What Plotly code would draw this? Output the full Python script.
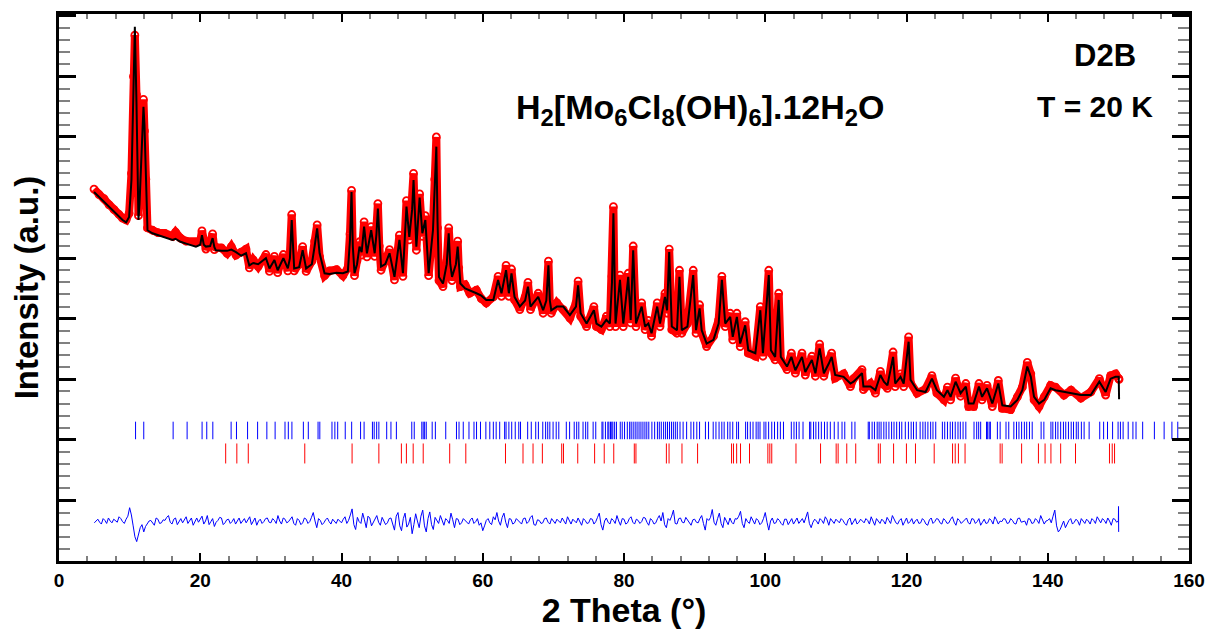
import plotly.graph_objects as go

# ---------------- data ----------------
# 2-theta positions (deg) of the profile points
two_theta = [4.96, 5.67, 6.4, 7.09, 7.8, 8.51, 9.0, 9.5, 9.93, 10.26,
             10.54, 10.74, 10.97, 11.1, 11.25, 11.4, 11.59, 11.8, 11.96, 12.1,
             12.3, 12.53, 13.24, 14.0, 15.0, 16.07, 16.5, 17.2, 18.0, 19.39,
             20.0, 20.24, 20.5, 20.8, 21.4, 21.75, 22.0, 22.2, 23.0, 23.8,
             24.4, 25.06, 25.8, 26.48, 26.95, 27.5, 28.2, 29.3, 29.8, 30.5,
             30.96, 31.77, 32.4, 32.7, 32.95, 33.15, 33.3, 34.0, 34.5, 34.99,
             35.8, 36.2, 36.55, 36.9, 37.6, 38.3, 39.3, 40.2, 40.9, 41.2,
             41.42, 41.6, 41.84, 42.2, 42.55, 42.85, 43.2, 43.6, 44.2, 44.7,
             44.95, 45.15, 45.35, 45.6, 46.2, 46.8, 47.5, 48.2, 48.7, 49.2,
             49.6, 50.0, 50.2, 50.4, 50.6, 51.06, 51.45, 51.87, 52.34, 52.95,
             53.2, 53.43, 53.6, 53.8, 54.37, 54.9, 55.18, 55.4, 55.65, 56.2,
             56.45, 56.6, 56.83, 57.5, 58.16, 59.1, 59.8, 60.5, 61.5, 62.17,
             62.65, 63.3, 63.7, 64.07, 64.5, 65.25, 66.0, 66.4, 66.76, 67.85,
             68.55, 69.0, 69.3, 69.5, 69.7, 70.5, 71.4, 72.34, 73.2, 73.5,
             73.86, 74.7, 75.74, 76.1, 76.8, 77.5, 78.0, 78.3, 78.5, 78.65,
             78.8, 79.43, 79.9, 80.6, 80.95, 81.3, 81.7, 82.5, 82.98, 83.45,
             83.9, 84.7, 85.1, 85.8, 86.1, 86.4, 86.77, 87.5, 87.85, 88.18,
             88.98, 89.8, 90.2, 90.7, 91.0, 91.7, 92.67, 93.4, 93.86, 94.33,
             95.04, 95.4, 95.98, 96.45, 97.16, 97.6, 98.6, 99.3, 99.67, 100.5,
             100.8, 101.4, 101.9, 102.2, 103.08, 103.7, 104.26, 105.2, 105.67, 106.6,
             107.1, 107.7, 108.3, 109.0, 109.4, 109.9, 111.1, 112.06, 112.5, 113.7,
             113.9, 114.9, 115.6, 116.3, 116.8, 117.3, 118.1, 118.4, 119.15, 119.6,
             120.3, 120.57, 121.5, 122.7, 123.6, 124.3, 125.3, 125.8, 126.24, 126.95,
             127.66, 128.4, 128.8, 129.5, 130.26, 130.7, 131.4, 132.15, 133.0, 133.57,
             134.75, 135.7, 136.4, 137.1, 137.6, 138.06, 138.77, 139.5, 140.4, 141.1,
             142.3, 143.3, 144.7, 146.1, 147.3, 148.2, 148.9, 149.6, 150.05, 150.1]

# calculated profile (black line), arbitrary units
y_calc = [6.09, 6.01, 5.92, 5.84, 5.76, 5.68, 5.63, 5.59, 5.68, 6.29,
          7.83, 8.82, 7.56, 6.5, 5.63, 5.9, 6.45, 7.1, 7.50, 7.2,
          6.45, 5.46, 5.41, 5.38, 5.34, 5.30, 5.32, 5.27, 5.24, 5.19,
          5.22, 5.38, 5.22, 5.19, 5.2, 5.33, 5.18, 5.13, 5.12, 5.12,
          5.14, 5.10, 5.04, 5.08, 4.88, 4.92, 4.9, 5.0, 4.83, 4.97,
          4.80, 5.0, 4.83, 5.0, 5.63, 5.1, 4.83, 4.85, 5.13, 4.83,
          4.9, 5.2, 5.49, 5.08, 4.75, 4.74, 4.76, 4.75, 4.78, 5.3,
          6.09, 5.2, 4.75, 4.9, 5.19, 5.1, 5.52, 5.08, 5.46, 5.08,
          5.4, 5.82, 5.3, 4.86, 4.9, 5.08, 4.69, 5.30, 4.75, 5.85,
          5.35, 5.8, 6.29, 5.7, 5.19, 6.0, 5.41, 5.63, 4.75, 5.46,
          6.2, 6.84, 5.6, 4.69, 4.58, 4.9, 5.41, 4.9, 4.69, 4.9,
          5.19, 4.9, 4.58, 4.5, 4.47, 4.42, 4.38, 4.31, 4.31, 4.64,
          4.42, 4.8, 4.42, 4.75, 4.36, 4.2, 4.3, 4.53, 4.20, 4.36,
          4.14, 4.3, 4.88, 4.3, 4.14, 4.2, 4.2, 4.06, 4.2, 4.55,
          4.09, 3.92, 4.14, 3.92, 3.87, 3.98, 3.92, 4.6, 5.74, 4.6,
          3.92, 4.64, 3.92, 4.69, 3.98, 5.13, 3.92, 4.2, 3.87, 3.92,
          3.76, 4.2, 3.92, 4.36, 4.14, 5.10, 3.87, 3.81, 4.69, 3.81,
          3.87, 4.72, 3.81, 4.17, 3.81, 3.59, 3.65, 3.92, 4.64, 3.92,
          4.03, 3.70, 4.03, 3.59, 3.89, 3.48, 3.43, 4.14, 3.43, 4.72,
          3.48, 3.37, 4.31, 3.37, 3.21, 3.37, 3.15, 3.37, 3.12, 3.32,
          3.10, 3.51, 3.10, 3.26, 3.37, 3.07, 3.04, 2.93, 2.96, 3.10,
          2.88, 2.88, 2.82, 3.07, 2.96, 2.90, 3.37, 2.93, 3.04, 2.93,
          3.62, 2.99, 2.82, 2.79, 3.01, 2.82, 2.71, 2.82, 2.71, 2.96,
          2.77, 2.88, 2.60, 2.60, 2.88, 2.71, 2.85, 2.60, 2.93, 2.57,
          2.55, 2.66, 2.82, 3.21, 3.04, 2.71, 2.60, 2.66, 2.85, 2.82,
          2.79, 2.77, 2.74, 2.74, 2.96, 2.79, 3.01, 3.04, 3.04, 2.67]

# observed intensities (red open circles)
y_obs = [6.14, 6.05, 5.98, 5.88, 5.80, 5.72, 5.66, 5.63, 5.74, 6.40,
         8.0, 8.68, 7.7, 6.6, 5.7, 6.0, 6.55, 7.2, 7.62, 7.1,
         6.3, 5.50, 5.46, 5.42, 5.41, 5.36, 5.43, 5.33, 5.28, 5.26,
         5.28, 5.45, 5.27, 5.15, 5.25, 5.40, 5.14, 5.18, 5.17, 5.08,
         5.19, 5.05, 5.10, 5.15, 4.84, 4.97, 4.86, 5.06, 4.78, 5.03,
         4.76, 5.06, 4.79, 5.08, 5.72, 5.0, 4.79, 4.90, 5.19, 4.78,
         4.95, 5.28, 5.55, 5.02, 4.71, 4.79, 4.81, 4.71, 4.84, 5.4,
         6.12, 5.1, 4.71, 4.96, 5.27, 5.05, 5.6, 5.02, 5.52, 5.03,
         5.5, 5.9, 5.2, 4.80, 4.96, 5.14, 4.64, 5.38, 4.70, 5.95,
         5.30, 5.9, 6.40, 5.6, 5.13, 6.06, 5.36, 5.7, 4.71, 5.52,
         6.3, 7.0, 5.5, 4.63, 4.53, 4.95, 5.50, 4.84, 4.63, 4.96,
         5.28, 4.84, 4.53, 4.56, 4.42, 4.47, 4.33, 4.26, 4.36, 4.70,
         4.37, 4.88, 4.37, 4.82, 4.31, 4.15, 4.36, 4.60, 4.15, 4.42,
         4.09, 4.36, 4.95, 4.24, 4.09, 4.26, 4.15, 4.01, 4.26, 4.62,
         4.04, 3.87, 4.20, 3.87, 3.82, 4.04, 3.87, 4.7, 5.85, 4.5,
         3.87, 4.72, 3.87, 4.75, 3.93, 5.2, 3.87, 4.26, 3.82, 3.97,
         3.71, 4.26, 3.87, 4.42, 4.09, 5.15, 3.82, 3.76, 4.80, 3.76,
         3.92, 4.80, 3.76, 4.23, 3.76, 3.54, 3.71, 3.98, 4.70, 3.87,
         4.09, 3.65, 4.09, 3.54, 3.95, 3.43, 3.38, 4.20, 3.38, 4.80,
         3.43, 3.32, 4.42, 3.32, 3.16, 3.43, 3.10, 3.43, 3.07, 3.38,
         3.05, 3.58, 3.05, 3.32, 3.43, 3.02, 3.09, 2.88, 3.01, 3.16,
         2.83, 2.93, 2.77, 3.13, 2.91, 2.85, 3.45, 2.88, 3.09, 2.88,
         3.70, 2.94, 2.77, 2.84, 3.06, 2.77, 2.66, 2.87, 2.66, 3.02,
         2.72, 2.93, 2.55, 2.55, 2.93, 2.66, 2.90, 2.55, 2.98, 2.52,
         2.50, 2.71, 2.87, 3.28, 3.09, 2.66, 2.55, 2.71, 2.90, 2.87,
         2.74, 2.82, 2.69, 2.79, 3.01, 2.74, 3.06, 3.09, 3.01, 3.0]

# difference curve (obs - calc, shifted): samples at whole/half degrees 5..150
diff_theta_a = [5.0 + 0.5 * i for i in range(291)]
y_diff_a = [0.63, 0.69, 0.61, 0.67, 0.71, 0.63, 0.67, 0.73, 0.65, 0.69,
            0.88, 0.58, 0.32, 0.55, 0.48, 0.61, 0.67, 0.59, 0.69, 0.63,
            0.67, 0.75, 0.61, 0.71, 0.65, 0.63, 0.73, 0.67, 0.59, 0.71,
            0.69, 0.61, 0.75, 0.65, 0.57, 0.67, 0.71, 0.63, 0.69, 0.65,
            0.61, 0.71, 0.67, 0.63, 0.73, 0.65, 0.59, 0.69, 0.65, 0.71,
            0.63, 0.67, 0.75, 0.61, 0.69, 0.65, 0.73, 0.59, 0.67, 0.63,
            0.69, 0.65, 0.80, 0.55, 0.67, 0.63, 0.71, 0.61, 0.65, 0.69,
            0.63, 0.73, 0.67, 0.86, 0.52, 0.65, 0.79, 0.55, 0.71, 0.63,
            0.75, 0.59, 0.67, 0.63, 0.71, 0.51, 0.80, 0.50, 0.79, 0.61,
            0.45, 0.78, 0.55, 0.84, 0.48, 0.81, 0.52, 0.67, 0.75, 0.59,
            0.67, 0.79, 0.55, 0.69, 0.63, 0.67, 0.61, 0.71, 0.65, 0.59,
            0.50, 0.67, 0.63, 0.73, 0.80, 0.59, 0.79, 0.55, 0.69, 0.63,
            0.67, 0.61, 0.71, 0.65, 0.75, 0.59, 0.67, 0.63, 0.71, 0.61,
            0.65, 0.69, 0.63, 0.67, 0.73, 0.61, 0.65, 0.71, 0.59, 0.67,
            0.63, 0.69, 0.65, 0.79, 0.51, 0.71, 0.61, 0.67, 0.75, 0.59,
            0.69, 0.63, 0.73, 0.61, 0.67, 0.65, 0.71, 0.59, 0.67, 0.63,
            0.75, 0.80, 0.55, 0.67, 0.84, 0.61, 0.71, 0.63, 0.67, 0.59,
            0.69, 0.63, 0.75, 0.51, 0.67, 0.85, 0.59, 0.79, 0.55, 0.67,
            0.71, 0.61, 0.69, 0.82, 0.55, 0.65, 0.73, 0.61, 0.67, 0.63,
            0.80, 0.51, 0.71, 0.63, 0.67, 0.59, 0.69, 0.65, 0.61, 0.71,
            0.67, 0.63, 0.81, 0.55, 0.69, 0.61, 0.67, 0.73, 0.59, 0.65,
            0.69, 0.63, 0.67, 0.59, 0.71, 0.65, 0.61, 0.69, 0.63, 0.67,
            0.73, 0.59, 0.65, 0.69, 0.61, 0.67, 0.75, 0.63, 0.67, 0.59,
            0.71, 0.65, 0.61, 0.69, 0.63, 0.67, 0.59, 0.71, 0.65, 0.69,
            0.61, 0.67, 0.63, 0.73, 0.59, 0.67, 0.65, 0.71, 0.61, 0.69,
            0.65, 0.59, 0.69, 0.63, 0.67, 0.73, 0.61, 0.65, 0.69, 0.63,
            0.67, 0.61, 0.71, 0.65, 0.59, 0.69, 0.63, 0.67, 0.75, 0.61,
            0.67, 0.63, 0.84, 0.48, 0.59, 0.55, 0.67, 0.61, 0.69, 0.59,
            0.65, 0.69, 0.61, 0.67, 0.73, 0.63, 0.67, 0.71, 0.59, 0.69,
            0.66]
# difference curve samples at the quarter positions 5.25, 5.75, ... 149.75
diff_theta_b = [5.25 + 0.5 * i for i in range(290)]
y_diff_b = [0.66, 0.64, 0.70, 0.62, 0.66, 0.69, 0.64, 0.70, 0.62, 0.74,
            0.76, 0.40, 0.45, 0.60, 0.57, 0.66, 0.63, 0.71, 0.62, 0.68,
            0.72, 0.64, 0.69, 0.60, 0.70, 0.68, 0.62, 0.71, 0.66, 0.64,
            0.74, 0.66, 0.60, 0.70, 0.64, 0.72, 0.60, 0.68, 0.62, 0.70,
            0.66, 0.62, 0.70, 0.68, 0.60, 0.71, 0.66, 0.62, 0.70, 0.64,
            0.70, 0.62, 0.66, 0.71, 0.63, 0.69, 0.62, 0.70, 0.60, 0.71,
            0.62, 0.72, 0.66, 0.70, 0.60, 0.68, 0.65, 0.69, 0.62, 0.66,
            0.69, 0.62, 0.76, 0.60, 0.72, 0.62, 0.68, 0.74, 0.58, 0.70,
            0.64, 0.72, 0.60, 0.70, 0.62, 0.74, 0.58, 0.70, 0.56, 0.72,
            0.60, 0.66, 0.74, 0.58, 0.70, 0.60, 0.72, 0.62, 0.66, 0.70,
            0.62, 0.68, 0.70, 0.60, 0.70, 0.64, 0.68, 0.62, 0.70, 0.63,
            0.58, 0.70, 0.60, 0.68, 0.66, 0.72, 0.64, 0.70, 0.61, 0.70,
            0.63, 0.70, 0.62, 0.72, 0.60, 0.68, 0.62, 0.70, 0.64, 0.70,
            0.62, 0.66, 0.71, 0.61, 0.67, 0.69, 0.63, 0.66, 0.70, 0.62,
            0.70, 0.61, 0.72, 0.60, 0.66, 0.64, 0.70, 0.62, 0.66, 0.70,
            0.61, 0.70, 0.64, 0.69, 0.62, 0.72, 0.64, 0.70, 0.61, 0.70,
            0.66, 0.60, 0.70, 0.74, 0.62, 0.70, 0.64, 0.72, 0.62, 0.68,
            0.64, 0.70, 0.62, 0.70, 0.72, 0.64, 0.70, 0.62, 0.72, 0.60,
            0.64, 0.70, 0.74, 0.62, 0.70, 0.62, 0.66, 0.70, 0.60, 0.70,
            0.64, 0.66, 0.62, 0.70, 0.62, 0.69, 0.60, 0.70, 0.66, 0.62,
            0.70, 0.72, 0.62, 0.64, 0.66, 0.70, 0.62, 0.68, 0.70, 0.62,
            0.66, 0.70, 0.62, 0.68, 0.60, 0.70, 0.64, 0.66, 0.70, 0.61,
            0.66, 0.70, 0.62, 0.66, 0.72, 0.62, 0.68, 0.61, 0.70, 0.65,
            0.62, 0.70, 0.66, 0.62, 0.70, 0.61, 0.68, 0.62, 0.70, 0.63,
            0.70, 0.62, 0.69, 0.64, 0.70, 0.62, 0.68, 0.63, 0.70, 0.62,
            0.70, 0.64, 0.62, 0.70, 0.61, 0.68, 0.66, 0.70, 0.62, 0.70,
            0.62, 0.70, 0.64, 0.66, 0.70, 0.62, 0.70, 0.62, 0.68, 0.66,
            0.70, 0.74, 0.58, 0.52, 0.66, 0.62, 0.70, 0.64, 0.66, 0.70,
            0.62, 0.66, 0.70, 0.62, 0.68, 0.70, 0.62, 0.66, 0.70, 0.64]
# vertical spike at the end of the difference curve
diff_theta_end = [150.02, 150.04]
y_diff_end = [0.90, 0.48]

# Bragg reflection positions, phase 1 (blue) and phase 2 (red)
bragg_phase1 = [10.84, 12.0, 16.16, 18.14, 20.26, 20.92, 21.78, 24.37, 25.13, 26.7,
                28.12, 29.43, 30.6, 32.0, 32.47, 32.98, 34.6, 35.3, 36.68, 36.93,
                38.65, 39.06, 39.46, 40.53, 41.44, 42.7, 43.2, 44.38, 44.63, 44.98,
                45.29, 46.4, 47.0, 47.77, 49.95, 50.3, 51.37, 51.57, 51.77, 52.0,
                52.84, 53.29, 54.76, 56.28, 56.64, 57.24, 58.05, 58.76, 59.12, 59.68,
                60.44, 61.0, 61.5, 61.9, 62.4, 63.1, 63.3, 63.7, 64.1, 64.6,
                65.1, 65.35, 66.36, 66.87, 67.5, 67.88, 68.5, 68.9, 69.2, 69.5,
                69.96, 70.4, 70.77, 71.83, 72.3, 72.95, 73.3, 73.6, 74.2, 74.57,
                74.87, 75.63, 76.0, 76.88, 77.02, 77.37, 77.71, 77.86, 78.09, 78.27,
                78.42, 78.67, 78.93, 79.47, 79.75, 80.08, 80.47, 80.8, 81.02, 81.3,
                81.58, 81.85, 82.13, 82.4, 82.68, 82.96, 83.23, 83.51, 83.95, 84.34,
                84.73, 85.0, 85.28, 85.61, 85.89, 86.16, 86.44, 86.72, 86.99, 87.27,
                87.55, 87.93, 88.37, 88.87, 89.48, 89.87, 90.31, 90.7, 91.53, 91.97,
                92.63, 93.02, 93.46, 93.85, 94.18, 94.68, 95.01, 95.4, 95.95, 96.22,
                97.22, 97.5, 97.88, 98.27, 98.71, 98.99, 99.26, 99.82, 100.09, 100.48,
                100.92, 101.31, 101.75, 102.14, 102.58, 103.69, 104.07, 104.41, 104.79, 105.35,
                106.28, 106.45, 106.84, 107.17, 107.56, 107.94, 108.39, 108.77, 109.21, 109.77,
                110.32, 110.87, 111.26, 112.26, 112.7, 114.58, 114.74, 115.13, 115.46, 115.85,
                116.12, 116.4, 116.79, 117.12, 117.51, 117.89, 118.23, 118.61, 119.0, 119.33,
                119.83, 120.27, 120.66, 120.99, 121.38, 121.93, 122.32, 122.65, 123.03, 123.42,
                123.75, 124.14, 125.08, 125.41, 125.8, 126.19, 126.52, 126.9, 127.29, 127.62,
                128.01, 128.4, 129.56, 129.94, 130.22, 130.5, 131.33, 131.49, 131.71, 131.88,
                132.87, 133.26, 134.09, 134.48, 135.2, 135.58, 135.92, 136.3, 136.69, 137.02,
                137.41, 137.8, 139.06, 139.45, 140.45, 140.72, 141.11, 141.44, 141.83, 142.22,
                142.55, 142.93, 143.32, 143.65, 144.04, 144.32, 144.76, 145.15, 145.86, 147.36,
                147.91, 148.46, 149.18, 149.96, 150.29, 150.67, 151.39, 152.06, 152.5, 153.44,
                155.1, 156.48, 157.58, 158.41]

bragg_phase2 = [23.6, 25.18, 26.8, 34.8, 41.5, 45.29, 48.48, 49.19, 50.15, 51.57,
                55.32, 57.6, 63.22, 65.7, 67.12, 68.44, 71.18, 71.43, 73.45, 75.84,
                77.2, 78.55, 81.46, 81.69, 86.0, 86.38, 88.21, 90.42, 95.23, 95.5,
                95.95, 96.5, 97.77, 100.37, 100.65, 100.92, 104.35, 107.83, 110.04, 110.32,
                111.54, 112.81, 116.01, 116.29, 118.17, 119.99, 121.27, 123.92, 126.52, 126.9,
                127.35, 128.29, 133.26, 133.54, 136.3, 138.68, 139.62, 140.45, 141.83, 143.93,
                148.74, 149.13, 149.46]

x_tick_labels = ["0", "20", "40", "60", "80", "100", "120", "140", "160"]

assert len(two_theta) == len(y_calc) == len(y_obs), (len(two_theta), len(y_calc), len(y_obs))
assert len(diff_theta_a) == len(y_diff_a), (len(diff_theta_a), len(y_diff_a))
assert len(diff_theta_b) == len(y_diff_b), (len(diff_theta_b), len(y_diff_b))

# merge the difference samples in order of 2-theta
diff_pairs = sorted(zip(diff_theta_a + diff_theta_b + diff_theta_end,
                        y_diff_a + y_diff_b + y_diff_end), key=lambda p: p[0])
diff_theta = [p[0] for p in diff_pairs]
y_diff = [p[1] for p in diff_pairs]

# ---------------- figure ----------------
FONT = "Liberation Sans, Arial, sans-serif"


def bragg_segments(positions, y0, y1):
    xs, ys = [], []
    for p in positions:
        xs += [p, p, None]
        ys += [y0, y1, None]
    return xs, ys


fig = go.Figure()

fig.add_trace(go.Scatter(
    x=two_theta, y=y_obs, mode="lines+markers", name="Observed",
    line=dict(color="#ff0000", width=8),
    marker=dict(symbol="circle-open", size=7, color="#ff0000", line=dict(width=1.8)),
))
fig.add_trace(go.Scatter(
    x=two_theta, y=y_calc, mode="lines", name="Calculated",
    line=dict(color="black", width=2),
))

bx, by = bragg_segments(bragg_phase1, 2.01, 2.30)
fig.add_trace(go.Scatter(x=bx, y=by, mode="lines", name="Bragg phase 1",
                         line=dict(color="#0000ff", width=1)))
rx, ry = bragg_segments(bragg_phase2, 1.61, 1.94)
fig.add_trace(go.Scatter(x=rx, y=ry, mode="lines", name="Bragg phase 2",
                         line=dict(color="#ff0000", width=1)))

fig.add_trace(go.Scatter(x=diff_theta, y=y_diff, mode="lines", name="Difference",
                         line=dict(color="#0000ff", width=1)))

fig.update_layout(
    template="none",
    width=1211, height=631,
    margin=dict(l=59, r=22, t=14, b=70),
    plot_bgcolor="white", paper_bgcolor="white",
    showlegend=False,
    font=dict(family=FONT, color="black"),
)

fig.update_xaxes(
    automargin=False,
    range=[0, 160], tickmode="array",
    tickvals=[int(t) for t in x_tick_labels], ticktext=x_tick_labels,
    ticks="inside", ticklen=8, tickwidth=2, tickcolor="black",
    showline=True, linewidth=3, linecolor="black", mirror="ticks",
    showgrid=False, zeroline=False,
    tickfont=dict(family=FONT, size=19, weight="bold", color="black"),
    minor=dict(dtick=4, tick0=0, ticks="inside", ticklen=5, tickwidth=1.5,
               tickcolor="#808080", showgrid=False),
    title=dict(text="2 Theta (°)", standoff=4,
               font=dict(family=FONT, size=34, weight="bold", color="black")),
)
fig.update_yaxes(
    automargin=False,
    range=[0, 9.03], tick0=0, dtick=1,
    showticklabels=False,
    ticks="inside", ticklen=17, tickwidth=3, tickcolor="black",
    showline=True, linewidth=3, linecolor="black", mirror="ticks",
    showgrid=False, zeroline=False,
    minor=dict(dtick=0.2, tick0=0, ticks="inside", ticklen=11, tickwidth=2,
               tickcolor="#808080", showgrid=False),
    title=dict(text="Intensity (a.u.)", standoff=8,
               font=dict(family=FONT, size=33, weight="bold", color="black")),
)

fig.add_annotation(
    text="H<sub>2</sub>[Mo<sub>6</sub>Cl<sub>8</sub>(OH)<sub>6</sub>].12H<sub>2</sub>O",
    xref="paper", yref="paper", x=0.567, y=0.825, xanchor="center", yanchor="middle",
    showarrow=False,
    font=dict(family=FONT, size=34, weight="bold", color="black"),
)
fig.add_annotation(
    text="D2B", xref="paper", yref="paper", x=0.926, y=0.925,
    xanchor="center", yanchor="middle", showarrow=False,
    font=dict(family=FONT, size=31, weight="bold", color="black"),
)
fig.add_annotation(
    text="T = 20 K", xref="paper", yref="paper", x=0.917, y=0.83,
    xanchor="center", yanchor="middle", showarrow=False,
    font=dict(family=FONT, size=30, weight="bold", color="black"),
)

fig.write_html("out.html", config={"displayModeBar": False},
               post_script="document.body.style.margin='0';")
